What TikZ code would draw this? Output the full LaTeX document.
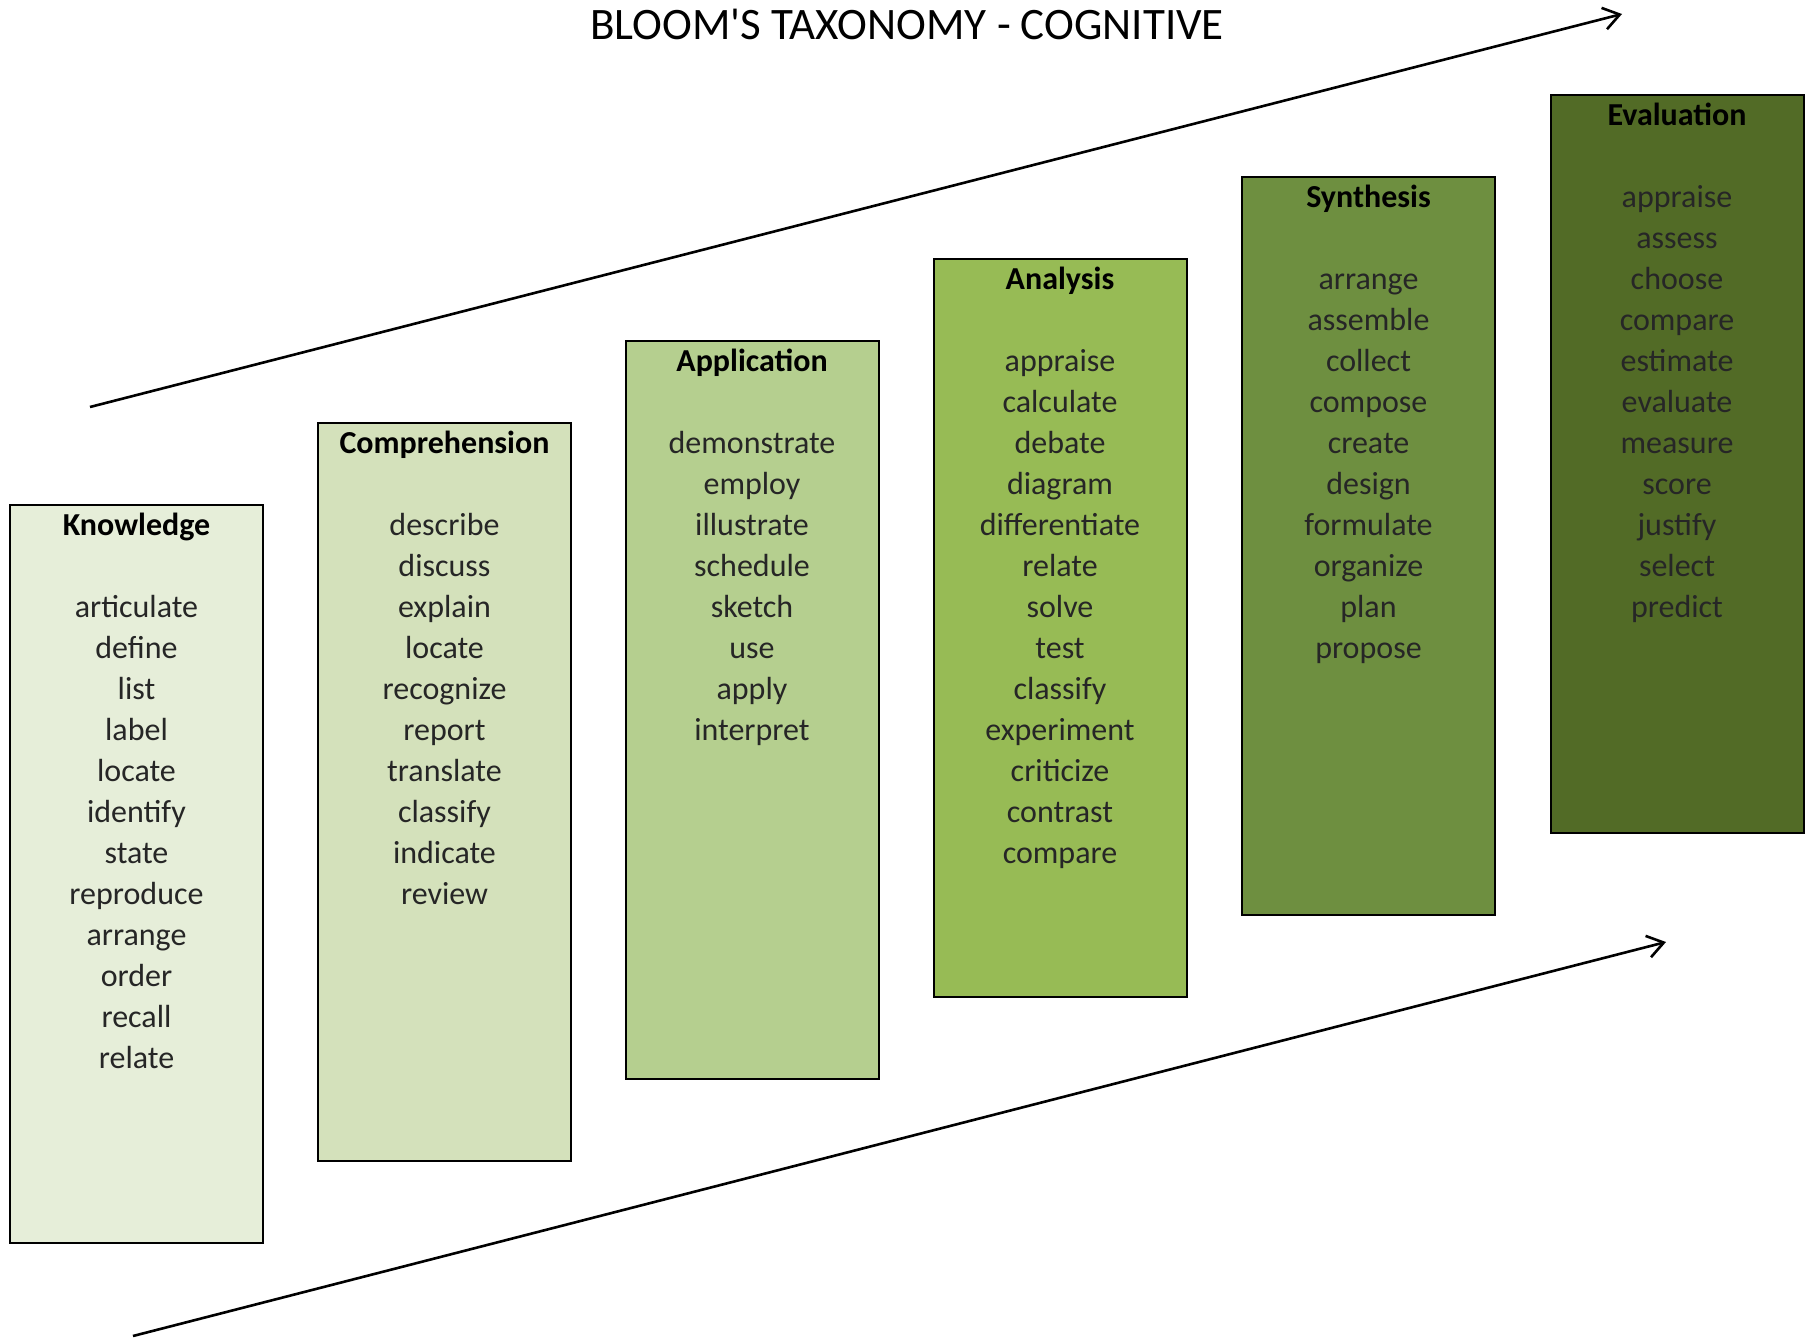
\documentclass[tikz,border=0pt]{standalone}
\usepackage{fontspec}
\setmainfont{Carlito}
\usepackage{xcolor}
\usepackage{tikz}
\usetikzlibrary{
	arrows.meta,
	positioning
}
\definecolor{KnowGreen}{RGB}{230,238,217}
\definecolor{CompGreen}{RGB}{212,225,187}
\definecolor{ApplGreen}{RGB}{181,207,143}
\definecolor{AnalGreen}{RGB}{151,187,85}
\definecolor{SynthGreen}{RGB}{110,143,64}
\definecolor{EvalGreen}{RGB}{82,107,38}

\begin{document}
\begin{tikzpicture}[x=0.5pt, y=-0.5pt,
		stage/.style={draw=black, line width=1pt, anchor=north, inner sep=0pt, minimum width=126.5pt, minimum height=369pt},
		verbs/.style={anchor=north, inner sep=0pt, text width=124pt, align=center, text=black!85, font=\fontsize{16}{20.5}\selectfont},
		trend/.style={line width=1.3pt, -{Straight Barb[length=8pt, width=11pt, line width=1.3pt]}}]
			\useasboundingbox (0,0) rectangle (1806,1338);
			\node[font=\fontsize{22.5}{27}\selectfont] (title) at (907,24) {BLOOM\textquotesingle S TAXONOMY - COGNITIVE};
			% rising arrows
			\coordinate (upstart) at (90,407);
			\coordinate (upend) at (1622,14);
			\coordinate (lowstart) at (133,1336);
			\coordinate (lowend) at (1666,942);
			\draw[trend] (upstart) -- (upend);
			\draw[trend] (lowstart) -- (lowend);
			% the six levels
			\node[stage, fill=KnowGreen] (know) at (136.5,504) {};
			\node[stage, fill=CompGreen] (comp) at (444.5,422) {};
			\node[stage, fill=ApplGreen] (appl) at (752,340) {};
			\node[stage, fill=AnalGreen] (anal) at (1060,258) {};
			\node[stage, fill=SynthGreen] (synth) at (1368.5,176) {};
			\node[stage, fill=EvalGreen] (eval) at (1677,94) {};
			\node[verbs, below=4.5pt of know.north] (knowtext) {\textcolor{black}{\textbf{Knowledge}}\\[20.5pt]
				articulate\\ define\\ list\\ label\\ locate\\ identify\\ state\\ reproduce\\ arrange\\ order\\ recall\\ relate};
			\node[verbs, below=4.5pt of comp.north] (comptext) {\textcolor{black}{\textbf{Comprehension}}\\[20.5pt]
				describe\\ discuss\\ explain\\ locate\\ recognize\\ report\\ translate\\ classify\\ indicate\\ review};
			\node[verbs, below=4.5pt of appl.north] (appltext) {\textcolor{black}{\textbf{Application}}\\[20.5pt]
				demonstrate\\ employ\\ illustrate\\ schedule\\ sketch\\ use\\ apply\\ interpret};
			\node[verbs, below=4.5pt of anal.north] (analtext) {\textcolor{black}{\textbf{Analysis}}\\[20.5pt]
				appraise\\ calculate\\ debate\\ diagram\\ differentiate\\ relate\\ solve\\ test\\ classify\\ experiment\\ criticize\\ contrast\\ compare};
			\node[verbs, below=4.5pt of synth.north] (synthtext) {\textcolor{black}{\textbf{Synthesis}}\\[20.5pt]
				arrange\\ assemble\\ collect\\ compose\\ create\\ design\\ formulate\\ organize\\ plan\\ propose};
			\node[verbs, below=4.5pt of eval.north] (evaltext) {\textcolor{black}{\textbf{Evaluation}}\\[20.5pt]
				appraise\\ assess\\ choose\\ compare\\ estimate\\ evaluate\\ measure\\ score\\ justify\\ select\\ predict};
		\end{tikzpicture}
\end{document}
